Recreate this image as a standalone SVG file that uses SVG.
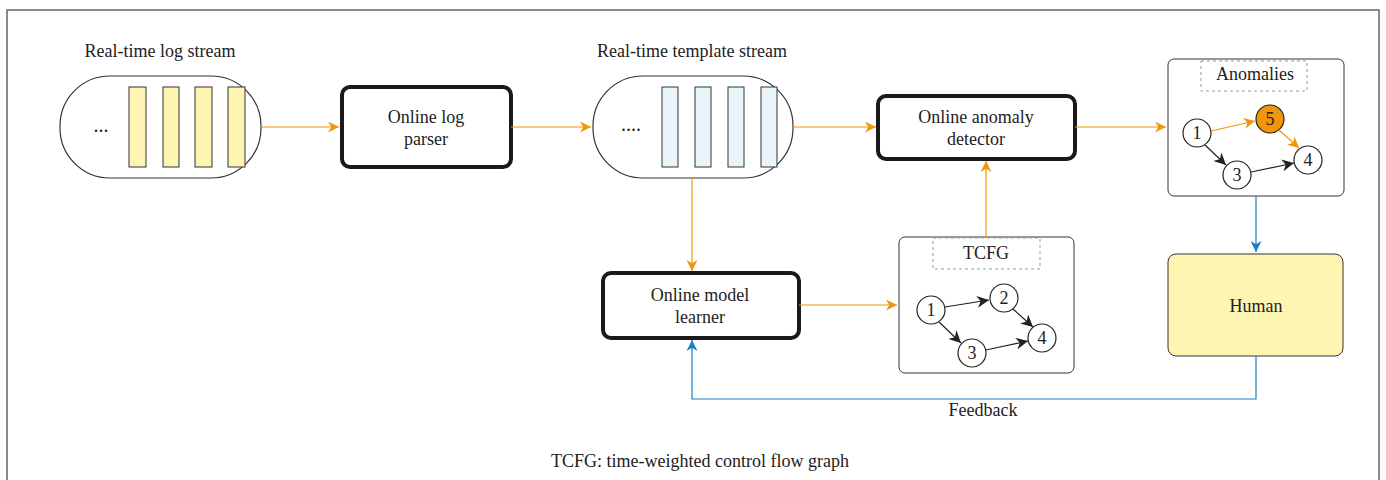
<svg xmlns="http://www.w3.org/2000/svg" width="1386" height="480" viewBox="0 0 1386 480" font-family="'Liberation Serif', 'DejaVu Serif', serif">
<style>
text{font-family:'Liberation Serif','DejaVu Serif',serif;font-size:18px;fill:#222;text-anchor:middle}
.pill{fill:#fff;stroke:#333;stroke-width:1.2}
.ybar{fill:#fff5b3;stroke:#333;stroke-width:1}
.bbar{fill:#eaf4fb;stroke:#333;stroke-width:1}
.proc{fill:#fff;stroke:#1a1a1a;stroke-width:4}
.panel{fill:#fff;stroke:#333;stroke-width:1}
.dash{fill:none;stroke:#999;stroke-width:1;stroke-dasharray:3,3}
.nd{fill:#fff;stroke:#222;stroke-width:1.2}
.nd5{fill:#f0960a;stroke:#222;stroke-width:1.2}
.o{fill:none;stroke:#f0960a;stroke-width:1.2}
.b{fill:none;stroke:#1c7ec4;stroke-width:1.2}
.k{fill:none;stroke:#222;stroke-width:1.2}
.dots{font-size:20px}
</style>
<defs>
<marker id="ao" viewBox="0 0 10 10" refX="10" refY="5" markerWidth="11" markerHeight="11" markerUnits="userSpaceOnUse" orient="auto"><path d="M0,0 L10,5 L0,10 L3,5 Z" fill="#f0960a"/></marker>
<marker id="ab" viewBox="0 0 10 10" refX="10" refY="5" markerWidth="11" markerHeight="11" markerUnits="userSpaceOnUse" orient="auto"><path d="M0,0 L10,5 L0,10 L3,5 Z" fill="#1c7ec4"/></marker>
<marker id="ak" viewBox="0 0 10 10" refX="10" refY="5" markerWidth="12" markerHeight="12" markerUnits="userSpaceOnUse" orient="auto"><path d="M0,0 L10,5 L0,10 L3,5 Z" fill="#222"/></marker>
</defs>
<rect x="7" y="10" width="1372" height="490" fill="#fff" stroke="#666" stroke-width="1.5"/>

<g id="logstream">
<text x="160" y="57">Real-time log stream</text>
<rect class="pill" x="60" y="76" width="201" height="102" rx="50"/>
<text class="dots" x="101" y="132">...</text>
<rect class="ybar" x="129" y="87" width="17" height="80"/>
<rect class="ybar" x="163" y="87" width="16" height="80"/>
<rect class="ybar" x="195" y="87" width="17" height="80"/>
<rect class="ybar" x="228" y="87" width="17" height="80"/>
</g>

<g id="parser">
<rect class="proc" x="342" y="87" width="169" height="80" rx="8"/>
<text x="426" y="123">Online log</text>
<text x="426" y="145">parser</text>
</g>

<g id="templatestream">
<text x="692" y="57">Real-time template stream</text>
<rect class="pill" x="593" y="76" width="200" height="102" rx="50"/>
<text class="dots" x="631" y="131">....</text>
<rect class="bbar" x="662" y="87" width="16" height="80"/>
<rect class="bbar" x="695" y="87" width="16" height="80"/>
<rect class="bbar" x="728" y="87" width="16" height="80"/>
<rect class="bbar" x="761" y="87" width="16" height="80"/>
</g>

<g id="detector">
<rect class="proc" x="878" y="96" width="197" height="63" rx="8"/>
<text x="976" y="123">Online anomaly</text>
<text x="976" y="145">detector</text>
</g>

<g id="anomalies">
<rect class="panel" x="1168" y="59" width="176" height="137" rx="6"/>
<rect class="dash" x="1201" y="61" width="106" height="30"/>
<text x="1255" y="80">Anomalies</text>
<circle class="nd" cx="1197" cy="133" r="14"/>
<text x="1197" y="139">1</text>
<circle class="nd5" cx="1270" cy="119" r="14"/>
<text x="1270" y="125">5</text>
<circle class="nd" cx="1308" cy="160" r="14"/>
<text x="1308" y="166">4</text>
<circle class="nd" cx="1237" cy="175" r="14"/>
<text x="1237" y="181">3</text>
</g>

<g id="human">
<rect x="1168" y="254" width="175" height="102" rx="8" fill="#fff5b3" stroke="#333" stroke-width="1"/>
<text x="1256" y="312">Human</text>
</g>

<g id="learner">
<rect class="proc" x="603" y="273" width="196" height="65" rx="8"/>
<text x="700" y="301">Online model</text>
<text x="700" y="323">learner</text>
</g>

<g id="tcfg">
<rect class="panel" x="899" y="237" width="175" height="136" rx="6"/>
<rect class="dash" x="933" y="238" width="107" height="31"/>
<text x="986" y="259">TCFG</text>
<circle class="nd" cx="931" cy="310" r="14"/>
<text x="931" y="316">1</text>
<circle class="nd" cx="1004" cy="298" r="14"/>
<text x="1004" y="304">2</text>
<circle class="nd" cx="1042" cy="338" r="14"/>
<text x="1042" y="344">4</text>
<circle class="nd" cx="972" cy="353" r="14"/>
<text x="972" y="359">3</text>
</g>

<g id="connectors">
<path class="o" d="M261,127 H339" marker-end="url(#ao)"/>
<path class="o" d="M511,127 H591" marker-end="url(#ao)"/>
<path class="o" d="M793,127 H876" marker-end="url(#ao)"/>
<path class="o" d="M1075,127 H1166" marker-end="url(#ao)"/>
<path class="o" d="M692,178 V271" marker-end="url(#ao)"/>
<path class="o" d="M799,305 H897" marker-end="url(#ao)"/>
<path class="o" d="M986,237 V161" marker-end="url(#ao)"/>
<path class="b" d="M1256,196 V252" marker-end="url(#ab)"/>
<path class="b" d="M1256,356 V399 H692 V340" marker-end="url(#ab)"/>
<path class="o" d="M1211,131 L1255,121" marker-end="url(#ao)"/>
<path class="o" d="M1279,130 L1299,148" marker-end="url(#ao)"/>
<path class="k" d="M1205,145 L1226,165" marker-end="url(#ak)"/>
<path class="k" d="M1251,172 L1294,163" marker-end="url(#ak)"/>
<path class="k" d="M945,307 L989,300" marker-end="url(#ak)"/>
<path class="k" d="M1013,309 L1033,327" marker-end="url(#ak)"/>
<path class="k" d="M939,322 L961,343" marker-end="url(#ak)"/>
<path class="k" d="M986,350 L1028,341" marker-end="url(#ak)"/>
</g>

<text x="983" y="416">Feedback</text>
<text x="700" y="467">TCFG: time-weighted control flow graph</text>
</svg>
